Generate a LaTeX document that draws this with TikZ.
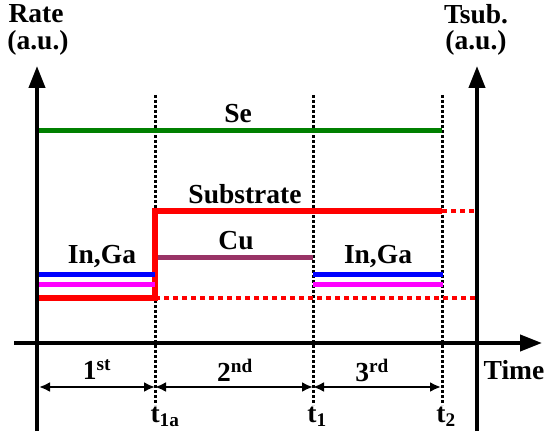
\documentclass[tikz,border=0pt]{standalone}
\usepackage{fontspec}
\setmainfont{Liberation Serif}
\usetikzlibrary{arrows.meta}
\definecolor{segreen}{RGB}{0,128,0}
\definecolor{cupurple}{RGB}{153,51,102}
\definecolor{mag}{RGB}{255,0,255}
\definecolor{bl}{RGB}{0,0,255}
\definecolor{rd}{RGB}{255,0,0}
\begin{document}
\begin{tikzpicture}[x=1pt,y=-1pt,
  lbl/.style={font=\fontsize{27.5}{30}\selectfont\bfseries, inner sep=0pt},
  axis/.style={line width=4pt, -{Triangle[width=16pt,length=22pt]}},
  tline/.style={line width=3pt, dash pattern=on 3pt off 2pt},
  rate/.style={line width=5pt},
  rdot/.style={line width=4pt, rd, dash pattern=on 5pt off 4pt},
  span/.style={line width=2.2pt, {Latex[length=11pt,width=10pt]}-{Latex[length=11pt,width=10pt]}}]
\useasboundingbox (0,0) rectangle (548,433);
% coordinates
\coordinate (la0) at (37,431);
\coordinate (la1) at (37,66);
\coordinate (ra0) at (477,431);
\coordinate (ra1) at (477,66);
\coordinate (ta0) at (14,343);
\coordinate (ta1) at (542,343);
% time markers
\coordinate (t1aT) at (155,95); \coordinate (t1aB) at (155,405);
\coordinate (t1T) at (313,95); \coordinate (t1B) at (313,405);
\coordinate (t2T) at (442,95); \coordinate (t2B) at (442,405);
\draw[tline] (t1aT) -- (t1aB);
\draw[tline] (t1T) -- (t1B);
\draw[tline] (t2T) -- (t2B);
% Se
\coordinate (se0) at (37,130); \coordinate (se1) at (442,130);
\draw[rate, segreen] (se0) -- (se1);
\node[lbl] (se) at (238,114) {Se};
% substrate
\coordinate (s0) at (37,298); \coordinate (s1) at (155,298);
\coordinate (s2) at (155,211); \coordinate (s3) at (442,211);
\coordinate (s4) at (477,211); \coordinate (s5) at (477,298);
\draw[rdot] (s1) -- (s5);
\draw[rdot] (s3) -- (s4);
\draw[line width=5.5pt, rd, line join=miter] (s0) -- (s1) -- (s2) -- (s3);
\node[lbl] (sub) at (245,194) {Substrate};
% Cu
\coordinate (cu0) at (158,257); \coordinate (cu1) at (313,257);
\draw[rate, cupurple] (cu0) -- (cu1);
\node[lbl] (cu) at (236,241) {Cu};
% In,Ga left
\coordinate (b0) at (37,274); \coordinate (b1) at (155,274);
\coordinate (m0) at (37,284); \coordinate (m1) at (155,284);
\draw[rate, bl] (b0) -- (b1);
\draw[rate, mag] (m0) -- (m1);
\node[lbl] (ig1) at (102,257) {In,Ga};
% In,Ga right
\coordinate (b2) at (313,274); \coordinate (b3) at (443,274);
\coordinate (m2) at (313,284); \coordinate (m3) at (443,284);
\draw[rate, bl] (b2) -- (b3);
\draw[rate, mag] (m2) -- (m3);
\node[lbl] (ig2) at (378,257) {In,Ga};
% axes
\draw[axis] (la0) -- (la1);
\draw[axis] (ra0) -- (ra1);
\draw[axis] (ta0) -- (ta1);
\node[lbl] (rate) at (36,14) {Rate};
\node[lbl] (rau) at (38,43) {(a.u.)};
\node[lbl] (tsub) at (476,14) {Tsub.};
\node[lbl] (tau) at (476,43) {(a.u.)};
\node[lbl] (time) at (514,370) {Time};
% spans
\coordinate (p0) at (39,387); \coordinate (p1) at (155,387);
\coordinate (p2) at (313,387); \coordinate (p3) at (441,387);
\draw[span] (p0) -- (p1);
\draw[span] (p1) -- (p2);
\draw[span] (p2) -- (p3);
\node[lbl] (st1) at (97,370) {1\textsuperscript{st}};
\node[lbl] (st2) at (235,370) {2\textsuperscript{nd}};
\node[lbl] (st3) at (372,370) {3\textsuperscript{rd}};
\node[lbl] (lt1a) at (165,417) {t\textsubscript{1a}};
\node[lbl] (lt1) at (317,417) {t\textsubscript{1}};
\node[lbl] (lt2) at (446,417) {t\textsubscript{2}};
\end{tikzpicture}
\end{document}
